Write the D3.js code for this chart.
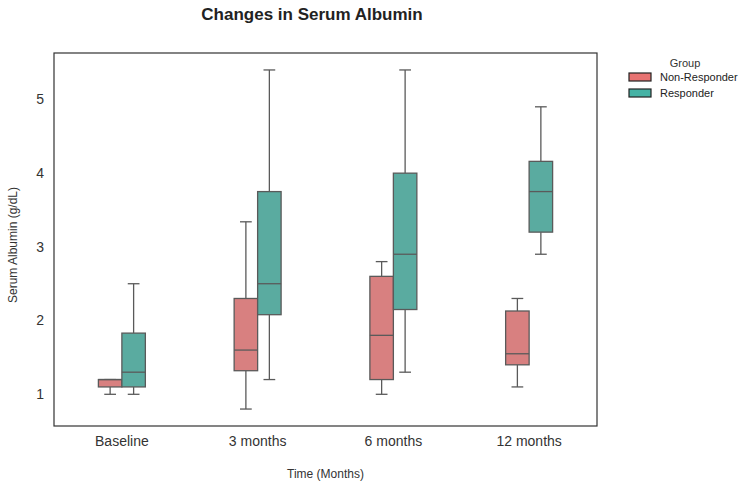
<!DOCTYPE html>
<html><head><meta charset="utf-8">
<script src="https://cdn.jsdelivr.net/npm/d3@7"></script>
<style>body{margin:0;background:#fff;font-family:"Liberation Sans",Arial,sans-serif;}</style>
</head><body><div id="chart"></div>
<script>
const categories = ["Baseline","3 months","6 months","12 months"];
const groups = ["Non-Responder","Responder"];
// [whiskerLow, q1, median, q3, whiskerHigh]
const nonResponder = [
  [1.0, 1.1, 1.2, 1.2, 1.2],
  [0.8, 1.32, 1.6, 2.3, 3.34],
  [1.0, 1.2, 1.8, 2.6, 2.8],
  [1.1, 1.4, 1.55, 2.13, 2.3]
];
const responder = [
  [1.0, 1.1, 1.3, 1.83, 2.5],
  [1.2, 2.08, 2.5, 3.75, 5.4],
  [1.3, 2.15, 2.9, 4.0, 5.4],
  [2.9, 3.2, 3.75, 4.16, 4.9]
];
const yTicks = [1,2,3,4,5];
const boxColors = ["#d88080","#5aaba0"];
const legendColors = ["#e87372","#45b3a5"];

const W=750,H=485, m={left:54,right:153,top:53,bottom:59};
const svg=d3.select("#chart").append("svg").attr("width",W).attr("height",H);
const x=d3.scaleBand().domain(categories).range([m.left,W-m.right]);
const y=d3.scaleLinear().domain([0.57,5.63]).range([H-m.bottom,m.top]);
const bw = x.bandwidth()*0.173;

svg.append("text").attr("x",312).attr("y",20).attr("text-anchor","middle")
  .attr("font-size",17).attr("font-weight","bold").attr("fill","#222").text("Changes in Serum Albumin");

const g=svg.append("g");
const data=[nonResponder,responder];
data.forEach((series,gi)=>{
  series.forEach((d,ci)=>{
    const cx=x(categories[ci])+x.bandwidth()/2;
    const x0 = gi===0? cx-bw : cx;
    const mid = x0+bw/2;
    const stroke="#5a5a5a";
    g.append("line").attr("x1",mid).attr("x2",mid).attr("y1",y(d[0])).attr("y2",y(d[1])).attr("stroke",stroke).attr("stroke-width",1.3);
    g.append("line").attr("x1",mid).attr("x2",mid).attr("y1",y(d[3])).attr("y2",y(d[4])).attr("stroke",stroke).attr("stroke-width",1.3);
    [d[0],d[4]].forEach(v=>g.append("line").attr("x1",mid-bw/4).attr("x2",mid+bw/4).attr("y1",y(v)).attr("y2",y(v)).attr("stroke",stroke).attr("stroke-width",1.3));
    g.append("rect").attr("x",x0).attr("width",bw).attr("y",y(d[3])).attr("height",y(d[1])-y(d[3]))
      .attr("fill",boxColors[gi]).attr("stroke",stroke).attr("stroke-width",1.3);
    g.append("line").attr("x1",x0).attr("x2",x0+bw).attr("y1",y(d[2])).attr("y2",y(d[2])).attr("stroke",stroke).attr("stroke-width",1.3);
  });
});

svg.append("rect").attr("x",m.left).attr("y",m.top).attr("width",W-m.right-m.left).attr("height",H-m.bottom-m.top)
  .attr("fill","none").attr("stroke","#333").attr("stroke-width",1.2);

yTicks.forEach(t=>svg.append("text").attr("x",44).attr("y",y(t)).attr("dy","0.35em").attr("text-anchor","end")
  .attr("font-size",14).attr("fill","#333").text(t));
categories.forEach(c=>svg.append("text").attr("x",x(c)+x.bandwidth()/2).attr("y",446).attr("text-anchor","middle")
  .attr("font-size",14).attr("fill","#333").text(c));
svg.append("text").attr("x",x.range()[0]+(x.range()[1]-x.range()[0])/2).attr("y",478).attr("text-anchor","middle")
  .attr("font-size",12).attr("fill","#333").text("Time (Months)");
svg.append("text").attr("transform","translate(17,245) rotate(-90)").attr("text-anchor","middle")
  .attr("font-size",12).attr("fill","#333").text("Serum Albumin (g/dL)");

const lg=svg.append("g");
lg.append("text").attr("x",685).attr("y",67).attr("text-anchor","middle").attr("font-size",11).attr("fill","#333").text("Group");
groups.forEach((gname,i)=>{
  lg.append("rect").attr("x",629).attr("y",73+i*16).attr("width",22).attr("height",8)
    .attr("fill",legendColors[i]).attr("stroke","#222").attr("stroke-width",1.2);
  lg.append("text").attr("x",660).attr("y",81+i*16).attr("font-size",11).attr("fill","#222").text(gname);
});
</script></body></html>
